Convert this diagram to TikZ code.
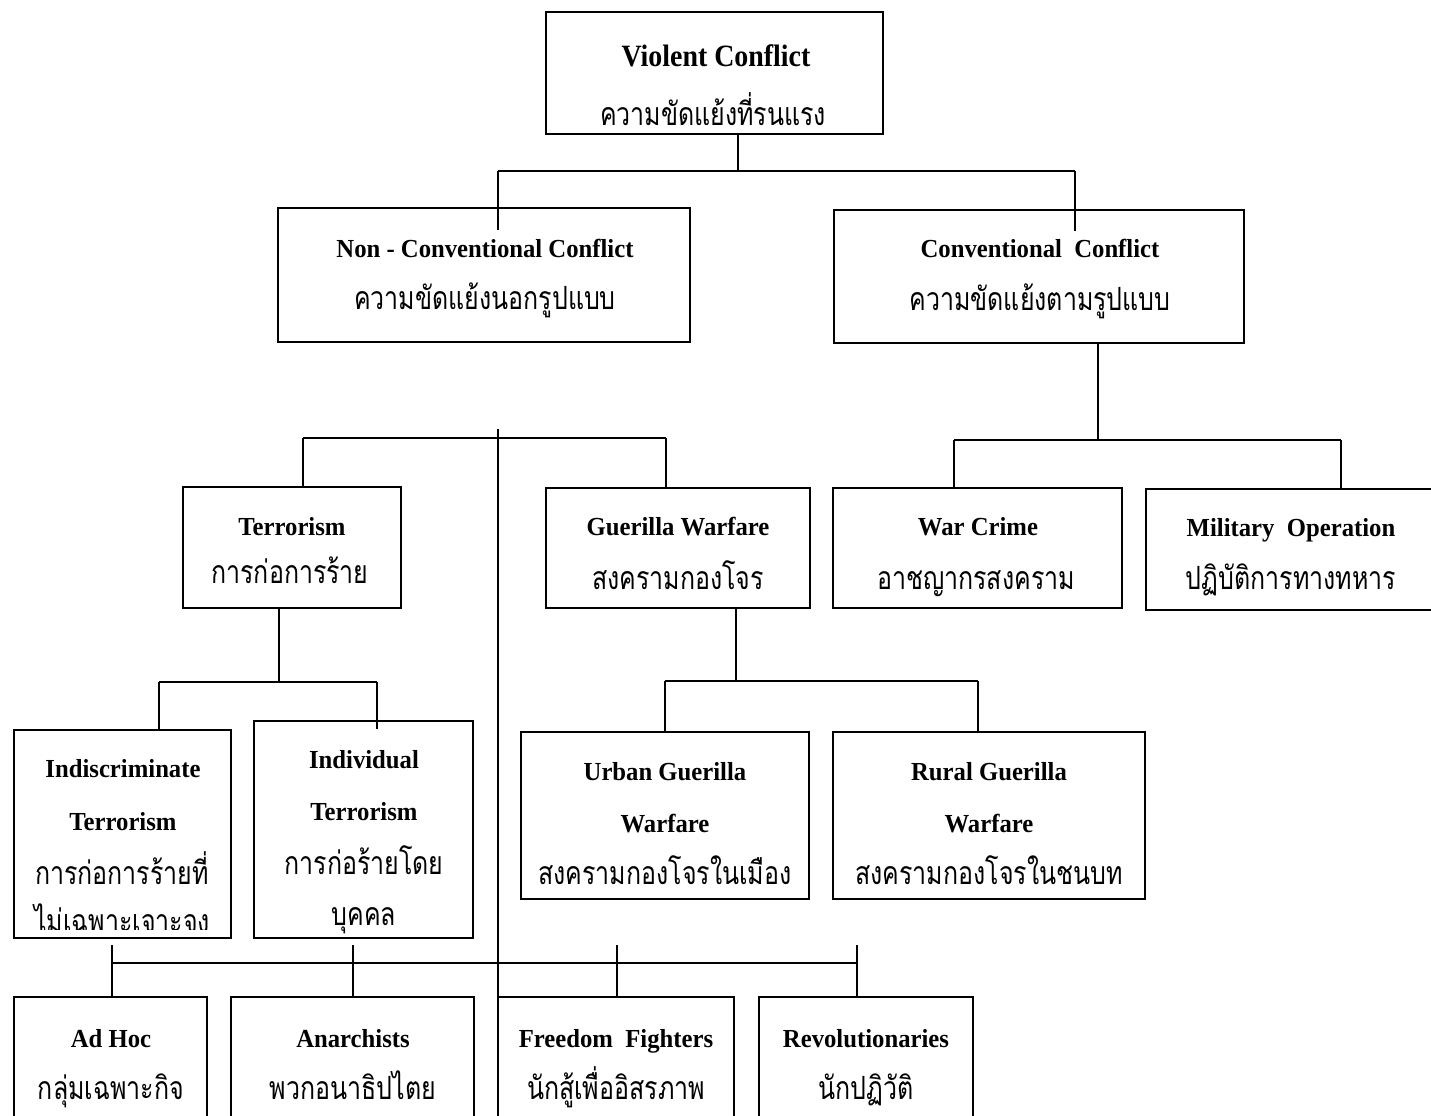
\documentclass[tikz,border=0pt]{standalone}
\usepackage{fontspec}
\setmainfont{Liberation Serif}
\newfontfamily\enfont[FakeStretch=0.95]{Liberation Serif}
\newfontfamily\titlefont[FakeStretch=0.9]{Liberation Serif}
\newfontfamily\thaifont[Script=Thai,FakeStretch=0.78]{Loma}
\usetikzlibrary{fit,calc}
\tikzset{
  box/.style={draw, line width=0.9pt, inner sep=0pt, fill=none},
  en/.style={font=\enfont\bfseries\fontsize{13}{16}\selectfont, inner sep=0pt, anchor=base},
  ttl/.style={font=\titlefont\bfseries\fontsize{15.5}{18}\selectfont, inner sep=0pt, anchor=base},
  th/.style={font=\thaifont\fontsize{16}{19}\selectfont, inner sep=0pt, anchor=base},
  wire/.style={line width=0.9pt}
}
\begin{document}
\begin{tikzpicture}[x=0.5pt,y=-0.5pt]
\useasboundingbox (0,0) rectangle (1431,1115);
\clip (0,0) rectangle (1431,1115);
% boxes
\node[box, fit={(546,12) (883,134)}] (vc) {};
\node[box, fit={(278,208) (690,342)}] (nc) {};
\node[box, fit={(834,210) (1244,343)}] (cc) {};
\node[box, fit={(183,487) (401,608)}] (te) {};
\node[box, fit={(546,488) (810,608)}] (gw) {};
\node[box, fit={(833,488) (1122,608)}] (wc) {};
\node[box, fit={(1146,489) (1436,610)}] (mo) {};
\node[box, fit={(14,730) (231,938)}] (it) {};
\node[box, fit={(254,721) (473,938)}] (iv) {};
\node[box, fit={(521,732) (809,899)}] (ug) {};
\node[box, fit={(833,732) (1145,899)}] (rg) {};
\node[box, fit={(14,997) (207,1130)}] (ah) {};
\node[box, fit={(231,997) (474,1130)}] (an) {};
\node[box, fit={(498,997) (734,1130)}] (ff) {};
\node[box, fit={(759,997) (973,1130)}] (rv) {};
% texts (y = baseline)
\node[ttl] (vc1) at (716,66) {Violent Conflict};
\node[th] (vc2) at (713,125) {ความขัดแย้งที่รนแรง};
\node[en] (nc1) at (485,257) {Non - Conventional Conflict};
\node[th] (nc2) at (485,309) {ความขัดแย้งนอกรูปแบบ};
\node[en] (cc1) at (1040,257) {Conventional\ \ Conflict};
\node[th] (cc2) at (1040,310) {ความขัดแย้งตามรูปแบบ};
\node[en] (te1) at (292,535) {Terrorism};
\node[th] (te2) at (290,583) {การก่อการร้าย};
\node[en] (gw1) at (678,535) {Guerilla Warfare};
\node[th] (gw2) at (678,589) {สงครามกองโจร};
\node[en] (wc1) at (978,535) {War Crime};
\node[th] (wc2) at (976,589) {อาชญากรสงคราม};
\node[en] (mo1) at (1291,536) {Military\ \ Operation};
\node[th] (mo2) at (1291,589) {ปฏิบัติการทางทหาร};
\node[en] (it1) at (123,777) {Indiscriminate};
\node[en] (it2) at (123,830) {Terrorism};
\node[th] (it3) at (122,884) {การก่อการร้ายที่};
\begin{scope}
\clip (16,895) rectangle (229,929);
\node[th] (it4) at (122,932) {ไม่เฉพาะเจาะจง};
\end{scope}
\node[en] (iv1) at (364,768) {Individual};
\node[en] (iv2) at (364,820) {Terrorism};
\node[th] (iv3) at (364,874) {การก่อร้ายโดย};
\node[th] (iv4) at (364,925) {บุคคล};
\node[en] (ug1) at (665,780) {Urban Guerilla};
\node[en] (ug2) at (665,832) {Warfare};
\node[th] (ug3) at (665,884) {สงครามกองโจรในเมือง};
\node[en] (rg1) at (989,780) {Rural Guerilla};
\node[en] (rg2) at (989,832) {Warfare};
\node[th] (rg3) at (989,884) {สงครามกองโจรในชนบท};
\node[en] (ah1) at (111,1047) {Ad Hoc};
\node[th] (ah2) at (111,1099) {กลุ่มเฉพาะกิจ};
\node[en] (an1) at (353,1047) {Anarchists};
\node[th] (an2) at (353,1099) {พวกอนาธิปไตย};
\node[en] (ff1) at (616,1047) {Freedom\ \ Fighters};
\node[th] (ff2) at (616,1099) {นักสู้เพื่ออิสรภาพ};
\node[en] (rv1) at (866,1047) {Revolutionaries};
\node[th] (rv2) at (866,1099) {นักปฏิวัติ};
% junction coordinates
\coordinate (j1) at (738,171);
\coordinate (j1l) at (498,171);
\coordinate (j1r) at (1075,171);
\coordinate (j2) at (1098,440);
\coordinate (j2l) at (954,440);
\coordinate (j2r) at (1341,440);
\coordinate (j3) at (498,429);
\coordinate (j3l) at (303,438);
\coordinate (j3r) at (666,438);
\coordinate (j4) at (279,682);
\coordinate (j4l) at (159,682);
\coordinate (j4r) at (377,682);
\coordinate (j5) at (736,681);
\coordinate (j5l) at (665,681);
\coordinate (j5r) at (978,681);
\coordinate (j6l) at (112,963);
\coordinate (j6r) at (857,963);
\coordinate (t1) at (112,945);
\coordinate (t2) at (353,945);
\coordinate (t3) at (617,945);
\coordinate (t4) at (857,945);
% connectors
\draw[wire] (j1 |- vc.south) -- (j1);
\draw[wire] (j1l) -- (j1r);
\draw[wire] (j1l) -- ($(j1l |- nc.north)+(0,23)$);
\draw[wire] (j1r) -- ($(j1r |- cc.north)+(0,22)$);
\draw[wire] (j2 |- cc.south) -- (j2);
\draw[wire] (j2l) -- (j2r);
\draw[wire] (j2l) -- (j2l |- wc.north);
\draw[wire] (j2r) -- (j2r |- mo.north);
\draw[wire] (j3) -- (j3 |- ff.north);
\draw[wire] (j3l) -- (j3r);
\draw[wire] (j3l) -- (j3l |- te.north);
\draw[wire] (j3r) -- (j3r |- gw.north);
\draw[wire] (j4 |- te.south) -- (j4);
\draw[wire] (j4l) -- (j4r);
\draw[wire] (j4l) -- (j4l |- it.north);
\draw[wire] (j4r) -- (j4r |- it.north);
\draw[wire] (j5 |- gw.south) -- (j5);
\draw[wire] (j5l) -- (j5r);
\draw[wire] (j5l) -- (j5l |- ug.north);
\draw[wire] (j5r) -- (j5r |- rg.north);
\draw[wire] (j6l) -- (j6r);
\draw[wire] (t1) -- (t1 |- ah.north);
\draw[wire] (t2) -- (t2 |- an.north);
\draw[wire] (t3) -- (t3 |- ff.north);
\draw[wire] (t4) -- (t4 |- rv.north);
\end{tikzpicture}
\end{document}
